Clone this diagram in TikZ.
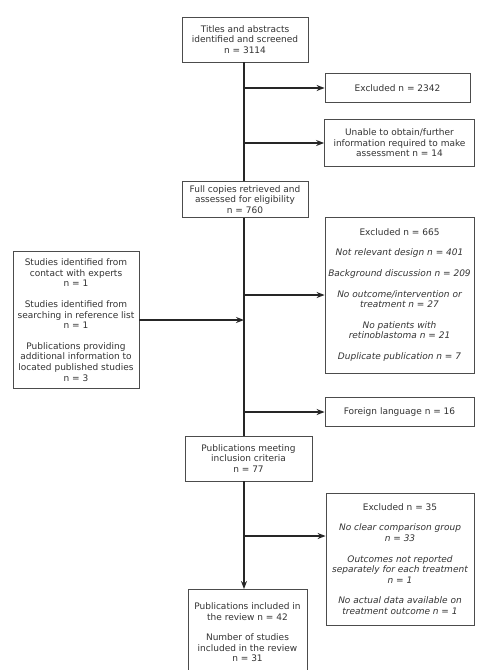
\documentclass[tikz,border=0pt]{standalone}
\usepackage{fontspec}
\setmainfont{DejaVu Sans}
\usetikzlibrary{arrows.meta}
\newcommand{\bxfont}{\fontsize{9.0}{10.6}\selectfont}
\begin{document}
\begin{tikzpicture}[x=1pt,y=-1pt,
  box/.style={draw=black!70, line width=0.8pt, align=center, font=\bxfont, text=black!80, inner sep=0pt, fill=white},
  conn/.style={draw=black!85, line width=1.4pt},
  arr/.style={conn, -{Stealth[length=8pt,width=6pt]}}]
\useasboundingbox (0,0) rectangle (484,670);
\fill[white] (0,0) rectangle (484,670);
\coordinate (mainx) at (244,0);
\coordinate (arr35) at (244,536);
% central boxes
\node[box, minimum width=126pt, minimum height=45pt] (top) at (245,39.5)
  {Titles and abstracts\\identified and screened\\n = 3114};
\node[box, minimum width=126pt, minimum height=36pt] (full) at (245,199.5)
  {Full copies retrieved and\\assessed for eligibility\\n = 760};
\node[box, minimum width=127pt, minimum height=45pt] (meet) at (248.5,458.5)
  {Publications meeting\\inclusion criteria\\n = 77};
\node[box, minimum width=119pt, minimum height=86pt, anchor=north] (final) at (247.5,589)
  {Publications included in\\the review n = 42\\[10pt]Number of studies\\included in the review\\n = 31};
% right boxes
\node[box, minimum width=145pt, minimum height=29pt] (ex1) at (397.5,88)
  {Excluded n = 2342};
\node[box, minimum width=150pt, minimum height=47pt] (unable) at (399.5,143)
  {Unable to obtain/further\\information required to make\\assessment n = 14};
\node[box, minimum width=149pt, minimum height=156pt] (ex665) at (399.5,295)
  {Excluded n = 665\\[10pt]\itshape Not relevant design n = 401\\[10pt]\itshape Background discussion n = 209\\[10pt]\itshape No outcome/intervention or\\\itshape treatment n = 27\\[10pt]\itshape No patients with\\\itshape retinoblastoma n = 21\\[10pt]\itshape Duplicate publication n = 7};
\node[box, minimum width=149pt, minimum height=29pt] (foreign) at (399.5,412)
  {Foreign language n = 16};
\node[box, minimum width=148pt, minimum height=132pt] (ex35) at (400,559)
  {Excluded n = 35\\[10pt]\itshape No clear comparison group\\\itshape n = 33\\[10pt]\itshape Outcomes not reported\\\itshape separately for each treatment\\\itshape n = 1\\[10pt]\itshape No actual data available on\\\itshape treatment outcome n = 1};
% left box
\node[box, minimum width=126pt, minimum height=137pt] (left) at (76,320)
  {Studies identified from\\contact with experts\\n = 1\\[10pt]Studies identified from\\searching in reference list\\n = 1\\[10pt]Publications providing\\additional information to\\located published studies\\n = 3};
% main line
\draw[conn] (top.south -| mainx) -- (full.north -| mainx);
\draw[conn] (full.south -| mainx) -- (meet.north -| mainx);
\draw[arr] (meet.south -| mainx) -- (final.north -| mainx);
% side arrows
\draw[arr] (ex1.west -| mainx) -- (ex1.west);
\draw[arr] (unable.west -| mainx) -- (unable.west);
\draw[arr] (ex665.west -| mainx) -- (ex665.west);
\draw[arr] (foreign.west -| mainx) -- (foreign.west);
\draw[arr] (arr35) -- (arr35 -| ex35.west);
\draw[arr] (left.east) -- (left.east -| mainx);
\end{tikzpicture}
\end{document}
